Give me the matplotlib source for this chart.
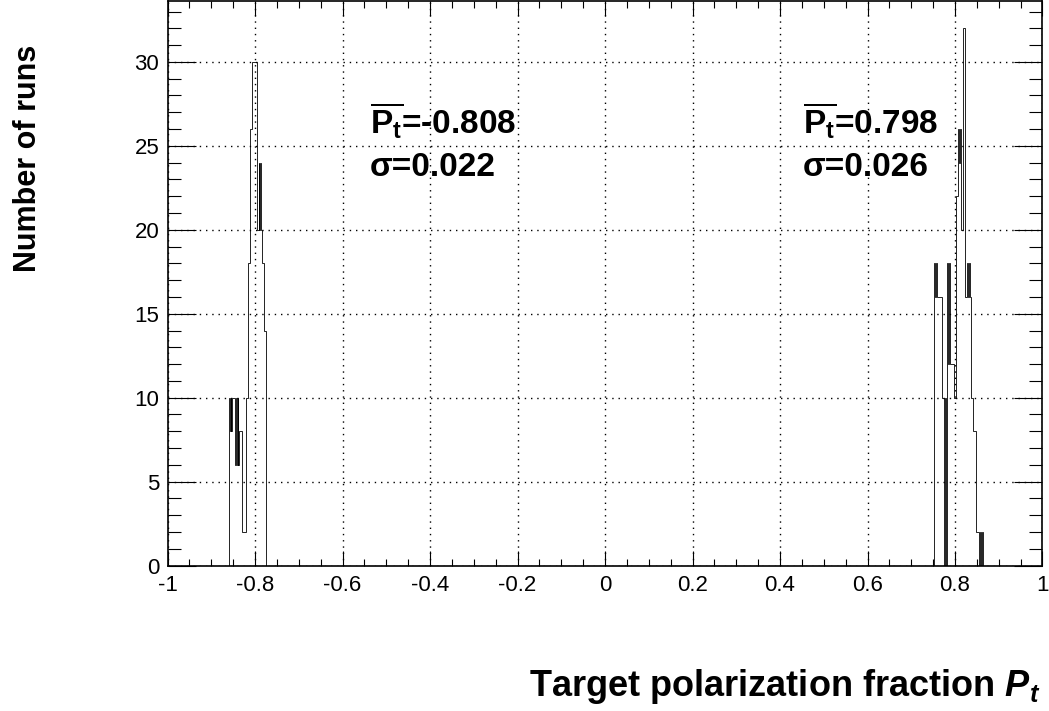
import numpy as np
import matplotlib
matplotlib.use('agg')
import matplotlib.pyplot as plt
import matplotlib.ticker as ticker

###DATA (bins of 0.002 in P_t)###
bin_width = 0.002
left_start = -0.860
left_counts = [10, 8, 10, 8, 10, 10, 10, 6, 10, 6, 10, 6, 8, 8, 8,
               2, 2, 2, 2, 2, 10, 10, 18, 18, 26, 26, 26,
               30, 30, 30, 30, 30, 20, 20, 24, 20, 24, 20, 18, 18, 14, 14]
right_start = 0.752
right_counts = [18, 16, 18, 16, 16, 16, 16, 16, 16, 10, 10, 10, 0, 10, 0,
                18, 12, 18, 12, 12, 12, 12, 12, 10, 10, 22, 22,
                24, 26, 24, 26, 20, 20, 32, 32, 32, 16, 16,
                18, 16, 18, 16, 10, 10, 10, 8, 8, 8, 2, 2, 2, 2, 0, 2, 0, 2]

x_ticks = [-1, -0.8, -0.6, -0.4, -0.2, 0, 0.2, 0.4, 0.6, 0.8, 1]
x_ticklabels = ['-1', '-0.8', '-0.6', '-0.4', '-0.2', '0', '0.2', '0.4', '0.6', '0.8', '1']
y_ticks = [0, 5, 10, 15, 20, 25, 30]
y_ticklabels = ['0', '5', '10', '15', '20', '25', '30']

stat_left = [r'$\overline{\mathbf{P}_{\mathbf{t}}}$=-0.808', 'σ=0.022']
stat_right = [r'$\overline{\mathbf{P}_{\mathbf{t}}}$=0.798', 'σ=0.026']
xlabel = r'Target polarization fraction $\mathbfit{P}_{\mathbfit{t}}$'
ylabel = 'Number of runs'

###FONTS###
plt.rcParams['font.family'] = ['Liberation Sans', 'DejaVu Sans']
plt.rcParams['mathtext.fontset'] = 'custom'
plt.rcParams['mathtext.rm'] = 'Liberation Sans'
plt.rcParams['mathtext.bf'] = 'Liberation Sans:bold'
plt.rcParams['mathtext.bfit'] = 'Liberation Sans:italic:bold'
plt.rcParams['mathtext.it'] = 'Liberation Sans:italic'
plt.rcParams['axes.unicode_minus'] = False

fig = plt.figure(figsize=(10.49, 7.11), dpi=100)
ax = fig.add_axes([0.1597, 0.2046, 0.8341, 0.7933])

###PLOTTING###
left_edges = left_start + bin_width * np.arange(len(left_counts) + 1)
right_edges = right_start + bin_width * np.arange(len(right_counts) + 1)
ax.stairs(left_counts, left_edges, color='black', lw=0.6, zorder=3)
ax.stairs(right_counts, right_edges, color='black', lw=0.6, zorder=3)

for x0, lines in [(-0.537, stat_left), (0.4526, stat_right)]:
    ax.text(x0, 25.7, lines[0], fontsize=24, fontweight='bold', va='baseline', zorder=4)
    ax.text(x0, 23.2, lines[1], fontsize=24, fontweight='bold', va='baseline', zorder=4)

###AXES FEATURES (LIMITS, TICKS, GRID)###
ax.set_xlim(-1, 1)
ax.set_ylim(0, 33.6)
ax.set_xticks(x_ticks, x_ticklabels)
ax.set_yticks(y_ticks, y_ticklabels)
ax.xaxis.set_minor_locator(ticker.MultipleLocator(0.05))
ax.yaxis.set_minor_locator(ticker.MultipleLocator(1))
ax.tick_params(which='both', direction='in', top=True, right=True, width=0.8, labelsize=16)
ax.xaxis.set_tick_params(which='major', length=11, pad=7)
ax.xaxis.set_tick_params(which='minor', length=5)
ax.yaxis.set_tick_params(which='major', length=20, pad=6)
ax.yaxis.set_tick_params(which='minor', length=9.5)
ax.grid(True, which='major', color='black', linestyle=(0, (1, 3.5)), lw=1.0)
ax.set_axisbelow(True)
for spine in ax.spines.values():
    spine.set_linewidth(1.2)

fig.text(0.9914, 0.0210, xlabel, fontsize=26, fontweight='bold', ha='right', va='baseline')
fig.text(0.0267, 0.937, ylabel, fontsize=22, fontweight='bold', rotation=90, ha='center', va='top')

plt.savefig('out.png', dpi=100)
